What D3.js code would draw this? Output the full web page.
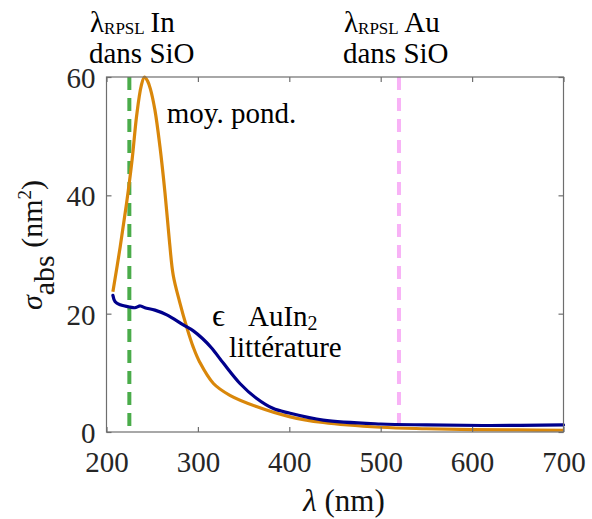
<!DOCTYPE html>
<html>
<head>
<meta charset="utf-8">
<script src="https://cdn.jsdelivr.net/npm/d3@7"></script>
</head>
<body style="margin:0">
<svg id="chart" width="592" height="519"></svg>
<script>
// ---- data ----
const avgLambda = [207, 215, 222, 228, 233, 238, 241.5, 245, 248, 253, 258.5, 264, 269, 273, 280, 288, 295, 302, 317, 335, 364, 400, 437, 500, 550, 600, 650, 700];
const avgSigma  = [23.7, 31.3, 38.7, 46, 53.5, 58.5, 60, 59.3, 58, 54.4, 48.2, 40.4, 32, 26.5, 22, 17.6, 14.3, 11.8, 8.2, 6.2, 4.3, 2.6, 1.6, 0.8, 0.55, 0.4, 0.35, 0.3];

const litLambda = [207, 209.5, 215, 226, 231, 237, 242, 253, 266, 284, 295, 305, 315, 328, 346, 364, 382, 400, 437, 500, 550, 620, 700];
const litSigma  = [23.1, 22.0, 21.5, 21.1, 21.0, 21.3, 21.0, 20.6, 19.8, 18.1, 17.1, 15.8, 14.2, 11.6, 8.2, 5.7, 4.0, 3.2, 2.0, 1.35, 1.2, 1.1, 1.2];

const rpslLambda = [225, 520];          // In, Au resonance wavelengths
const rpslMetal  = ["In", "Au"];

const xTicks = [200, 300, 400, 500, 600, 700];
const yTicks = [0, 20, 40, 60];

// ---- layout ----
const svg = d3.select("#chart");
const x = d3.scaleLinear().domain([200, 700]).range([106.5, 563.5]);
const y = d3.scaleLinear().domain([0, 60]).range([432, 77]);

const frameColor = "#6e6e6e";
const tickText = "#262626";
const fs = 29;
const FONT = '"Liberation Serif"';

const line = d3.line().x(d => x(d[0])).y(d => y(d[1])).curve(d3.curveCatmullRom.alpha(0.5));

// dashed resonance lines
const rpslColors = ["#4aac4a", "#f8b2f6"];
svg.selectAll("line.rpsl").data(rpslLambda).enter().append("line")
  .attr("class", "rpsl")
  .attr("x1", d => x(d)).attr("x2", d => x(d))
  .attr("y1", y(60)).attr("y2", y(0))
  .attr("stroke", (d, i) => rpslColors[i])
  .attr("stroke-width", 4)
  .attr("stroke-dasharray", "13,8");

svg.append("path")
  .datum(avgLambda.map((l, i) => [l, avgSigma[i]]))
  .attr("d", line)
  .attr("fill", "none")
  .attr("stroke", "#d9870a")
  .attr("stroke-width", 3.2)
  .attr("stroke-linejoin", "round");

svg.append("path")
  .datum(litLambda.map((l, i) => [l, litSigma[i]]))
  .attr("d", line)
  .attr("fill", "none")
  .attr("stroke", "#00008c")
  .attr("stroke-width", 3.2)
  .attr("stroke-linecap", "round")
  .attr("stroke-linejoin", "round");

// frame
svg.append("rect")
  .attr("x", x(200)).attr("y", y(60))
  .attr("width", x(700) - x(200)).attr("height", y(0) - y(60))
  .attr("fill", "none").attr("stroke", frameColor).attr("stroke-width", 1.2);

// axes (ticks inside)
const xAxisB = d3.axisBottom(x).tickValues(xTicks).tickSizeInner(-5).tickSizeOuter(0).tickPadding(19);
const xAxisT = d3.axisTop(x).tickValues(xTicks).tickSizeInner(-5).tickSizeOuter(0).tickFormat("");
const yAxisL = d3.axisLeft(y).tickValues(yTicks).tickSizeInner(-5).tickSizeOuter(0).tickPadding(11);
const yAxisR = d3.axisRight(y).tickValues(yTicks).tickSizeInner(-5).tickSizeOuter(0).tickFormat("");

function styleAxis(g) {
  g.attr("font-family", FONT).attr("font-size", fs);
  g.select(".domain").remove();
  g.selectAll(".tick line").attr("stroke", frameColor).attr("stroke-width", 1.2);
  g.selectAll(".tick text").attr("fill", tickText).attr("font-size", fs).attr("font-family", FONT);
}
svg.append("g").attr("transform", `translate(0,${y(0)})`).call(xAxisB).call(styleAxis)
  .selectAll(".tick text").attr("dy", "0.72em");
svg.append("g").attr("transform", `translate(0,${y(60)})`).call(xAxisT).call(styleAxis);
svg.append("g").attr("transform", `translate(${x(200)},0)`).call(yAxisL).call(styleAxis)
  .selectAll(".tick text").attr("dy", "0.36em");
svg.append("g").attr("transform", `translate(${x(700)},0)`).call(yAxisR).call(styleAxis);

function txt(sel) { return sel.append("text").attr("font-family", FONT); }
function span(t) { return t.append("tspan").attr("font-family", FONT); }

// axis titles
const xl = txt(svg).attr("x", 344).attr("y", 511).attr("text-anchor", "middle")
  .attr("font-size", 31).attr("fill", "#111");
span(xl).attr("font-style", "italic").text("λ");
span(xl).text(" (nm)");

const yl = txt(svg).attr("transform", "translate(42,245) rotate(-90)")
  .attr("text-anchor", "middle").attr("font-size", 30).attr("fill", "#111");
span(yl).attr("font-style", "italic").text("σ");
span(yl).attr("dy", 12).text("abs");
span(yl).attr("dy", -12).text(" (nm");
span(yl).attr("dy", -11).attr("font-size", 19).text("2");
span(yl).attr("dy", 11).text(")");

// resonance labels
const rpslLabelX = [90, 344];
rpslLambda.forEach((l, i) => {
  const t = txt(svg).attr("x", rpslLabelX[i]).attr("y", 32)
    .attr("font-size", fs).attr("fill", "#000");
  span(t).text("λ");
  span(t).attr("dy", 2).attr("font-size", 17).text("RPSL");
  span(t).attr("dy", -2).text(i === 0 ? "\u2009" + rpslMetal[i] : " " + rpslMetal[i]);
  txt(svg).attr("x", rpslLabelX[i] - 1).attr("y", 63)
    .attr("font-size", fs).attr("fill", "#000").text("dans SiO");
});

// curve labels
txt(svg).attr("x", x(266)).attr("y", y(52.2))
  .attr("font-size", fs).attr("fill", "#000").text("moy. pond.");

const el = txt(svg).attr("x", 212).attr("y", y(18.0))
  .attr("font-size", fs).attr("fill", "#000");
span(el).attr("font-size", 32).text("ϵ");
span(el).attr("x", 248).text("AuIn");
span(el).attr("dy", 4).attr("font-size", 20).text("2");
txt(svg).attr("x", 229).attr("y", y(12.6))
  .attr("font-size", fs).attr("fill", "#000").text("littérature");
</script>
</body>
</html>
